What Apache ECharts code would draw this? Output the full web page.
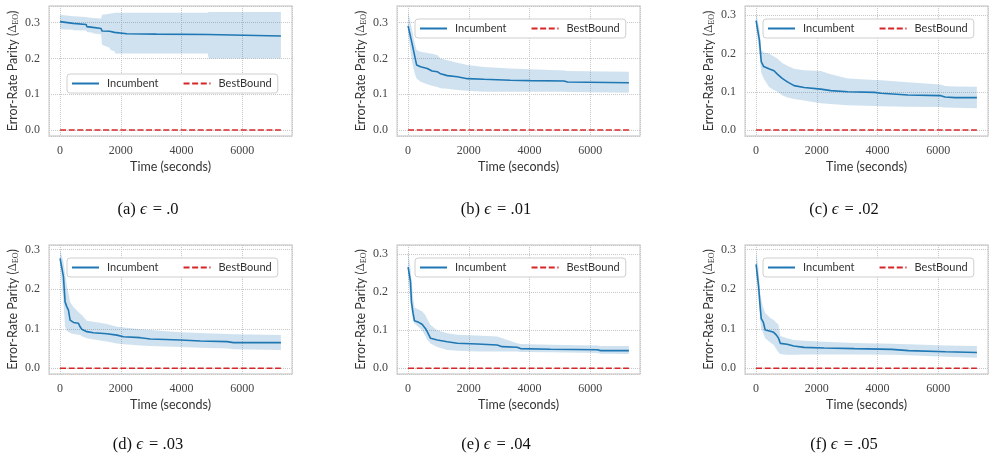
<!DOCTYPE html>
<head>
    <meta charset="utf-8">
    <title>Incumbent vs BestBound</title>
    <script src="https://cdn.jsdelivr.net/npm/echarts@6/dist/echarts.min.js"></script>
</head>
<body style="margin:0;background:#fff">
    <div id="main" style="width:994px;height:461px"></div>
    <script type="text/javascript">
        // panel captions
        var captions = ['(a) {e|ϵ}= .0', '(b) {e|ϵ}= .01', '(c) {e|ϵ}= .02',
                        '(d) {e|ϵ}= .03', '(e) {e|ϵ}= .04', '(f) {e|ϵ}= .05'];

        // (a) eps = .0
        var tA    = [0, 430, 440, 860, 880, 1080, 1100, 1350, 1380, 1630, 1660, 1790, 1820, 2200, 3170, 3190, 4860, 4890, 7270];
        var meanA = [0.303, 0.298, 0.295, 0.295, 0.289, 0.287, 0.285, 0.284, 0.277, 0.276, 0.274, 0.273, 0.270, 0.269, 0.268, 0.267, 0.267, 0.264, 0.263];
        var hiA   = [0.322, 0.318, 0.318, 0.316, 0.315, 0.313, 0.313, 0.312, 0.322, 0.325, 0.326, 0.327, 0.328, 0.328, 0.328, 0.328, 0.328, 0.330, 0.330];
        var loA   = [0.282, 0.280, 0.279, 0.278, 0.274, 0.272, 0.270, 0.268, 0.238, 0.230, 0.224, 0.220, 0.214, 0.214, 0.214, 0.214, 0.214, 0.200, 0.200];

        // (b) eps = .01
        var tB    = [0, 130, 210, 280, 410, 630, 790, 960, 1070, 1290, 1620, 1950, 2500, 3370, 4030, 5130, 5250, 7270];
        var meanB = [0.291, 0.242, 0.210, 0.182, 0.177, 0.172, 0.165, 0.163, 0.157, 0.152, 0.149, 0.1435, 0.1417, 0.139, 0.138, 0.137, 0.134, 0.132];
        var hiB   = [0.331, 0.280, 0.245, 0.224, 0.219, 0.215, 0.213, 0.210, 0.200, 0.195, 0.188, 0.182, 0.176, 0.172, 0.170, 0.166, 0.165, 0.163];
        var loB   = [0.270, 0.190, 0.160, 0.144, 0.135, 0.128, 0.124, 0.120, 0.117, 0.115, 0.112, 0.110, 0.107, 0.107, 0.107, 0.107, 0.106, 0.104];

        // (c) eps = .02
        var tC    = [0, 110, 170, 250, 420, 590, 700, 860, 1030, 1250, 1580, 2130, 2460, 3020, 3900, 4120, 5000, 6060, 6220, 6550, 7270];
        var meanC = [0.286, 0.235, 0.179, 0.166, 0.160, 0.155, 0.146, 0.135, 0.126, 0.116, 0.111, 0.107, 0.103, 0.100, 0.0985, 0.096, 0.0915, 0.090, 0.0863, 0.0846, 0.0846];
        var hiC   = [0.307, 0.265, 0.209, 0.203, 0.200, 0.192, 0.187, 0.175, 0.168, 0.160, 0.156, 0.154, 0.146, 0.135, 0.131, 0.130, 0.125, 0.119, 0.115, 0.114, 0.113];
        var loC   = [0.270, 0.200, 0.150, 0.135, 0.113, 0.104, 0.100, 0.091, 0.085, 0.081, 0.077, 0.070, 0.068, 0.065, 0.063, 0.062, 0.061, 0.060, 0.059, 0.058, 0.057];

        // (d) eps = .03
        var tD    = [0, 110, 165, 220, 275, 330, 440, 600, 660, 715, 880, 1100, 1540, 1870, 2090, 2640, 2970, 3960, 4620, 5500, 5710, 7270];
        var meanD = [0.278, 0.232, 0.168, 0.156, 0.147, 0.122, 0.116, 0.114, 0.105, 0.0986, 0.0927, 0.090, 0.0876, 0.084, 0.080, 0.0775, 0.074, 0.0716, 0.069, 0.0674, 0.065, 0.065];
        var hiD   = [0.299, 0.270, 0.240, 0.210, 0.190, 0.168, 0.155, 0.143, 0.138, 0.135, 0.120, 0.118, 0.112, 0.105, 0.103, 0.099, 0.097, 0.091, 0.089, 0.087, 0.086, 0.084];
        var loD   = [0.261, 0.168, 0.105, 0.095, 0.092, 0.089, 0.087, 0.085, 0.084, 0.081, 0.076, 0.073, 0.068, 0.063, 0.061, 0.058, 0.0564, 0.054, 0.052, 0.050, 0.048, 0.046];

        // (e) eps = .04
        var tE    = [0, 80, 110, 165, 210, 350, 460, 570, 630, 740, 960, 1290, 1620, 2280, 2930, 3100, 3590, 3700, 4690, 6230, 6340, 7270];
        var meanE = [0.266, 0.228, 0.175, 0.145, 0.125, 0.121, 0.116, 0.105, 0.0965, 0.079, 0.0746, 0.070, 0.0658, 0.064, 0.0614, 0.057, 0.0553, 0.0518, 0.050, 0.049, 0.0465, 0.0465];
        var hiE   = [0.311, 0.263, 0.235, 0.185, 0.160, 0.155, 0.150, 0.140, 0.130, 0.114, 0.100, 0.092, 0.088, 0.086, 0.084, 0.079, 0.066, 0.064, 0.062, 0.060, 0.059, 0.0588];
        var loE   = [0.237, 0.175, 0.150, 0.125, 0.118, 0.108, 0.100, 0.085, 0.075, 0.065, 0.056, 0.048, 0.046, 0.044, 0.044, 0.044, 0.044, 0.043, 0.042, 0.040, 0.038, 0.0377];

        // (f) eps = .05
        var tF    = [0, 80, 130, 170, 240, 300, 470, 580, 670, 740, 800, 1020, 1240, 1580, 2240, 3240, 4470, 5020, 6240, 7270];
        var meanF = [0.263, 0.210, 0.160, 0.126, 0.116, 0.097, 0.094, 0.091, 0.084, 0.076, 0.063, 0.0607, 0.0564, 0.053, 0.0514, 0.0497, 0.048, 0.0447, 0.042, 0.040];
        var hiF   = [0.296, 0.253, 0.194, 0.175, 0.152, 0.140, 0.127, 0.122, 0.115, 0.110, 0.082, 0.076, 0.0716, 0.070, 0.067, 0.064, 0.062, 0.061, 0.058, 0.0564];
        var loF   = [0.236, 0.180, 0.125, 0.101, 0.088, 0.076, 0.065, 0.059, 0.048, 0.040, 0.036, 0.034, 0.034, 0.035, 0.035, 0.035, 0.034, 0.033, 0.0295, 0.027];

        var bestBound = 0;

        var panels = [
            {t: tA, mean: meanA, hi: hiA, lo: loA},
            {t: tB, mean: meanB, hi: hiB, lo: loB},
            {t: tC, mean: meanC, hi: hiC, lo: loC},
            {t: tD, mean: meanD, hi: hiD, lo: loD},
            {t: tE, mean: meanE, hi: hiE, lo: loE},
            {t: tF, mean: meanF, hi: hiF, lo: loF}
        ];

        // layout (pixels)
        var colLeft = [49, 397, 745];
        var rowTop = [6, 245];
        var rowH = [130, 129];
        var yMin = [-0.0168, -0.0168, -0.0157, -0.0144, -0.015, -0.0144];
        var yMax = [0.3467, 0.3467, 0.3243, 0.3119, 0.3245, 0.312];
        var legendPos = [[67, 74], [415, 19], [763, 19], [67, 258], [415, 258], [763, 258]];
        var captionY = [210, 445];

        var blue = '#1f77b4', band = 'rgba(31,119,180,0.21)', red = '#d62728';
        var sans = 'Lato', serif = 'Liberation Serif';

        function toPairs(t, v) {
            var out = [];
            for (var i = 0; i < t.length; i++) out.push([t[i], v[i]]);
            return out;
        }

        function bandRenderer(p) {
            return function (params, api) {
                var pts = [];
                for (var i = 0; i < p.t.length; i++) pts.push(api.coord([p.t[i], p.hi[i]]));
                for (var j = p.t.length - 1; j >= 0; j--) pts.push(api.coord([p.t[j], p.lo[j]]));
                return {type: 'polygon', shape: {points: pts}, style: {fill: band}};
            };
        }

        var grid = [], xAxis = [], yAxis = [], series = [], legend = [], graphic = [];
        panels.forEach(function (p, k) {
            var r = Math.floor(k / 3), c = k % 3;
            grid.push({left: colLeft[c], top: rowTop[r], width: 243, height: rowH[r],
                       show: true, borderColor: '#d4d4d4', borderWidth: 1.3, backgroundColor: '#fff'});
            xAxis.push({
                type: 'value', gridIndex: k, min: -365, max: 7635, splitNumber: 4,
                axisLine: {show: false}, axisTick: {show: false},
                axisLabel: {fontFamily: serif, fontSize: 12, color: '#444', margin: 9,
                            formatter: function (v) { return v % 2000 === 0 ? String(v) : ''; }},
                splitLine: {lineStyle: {type: 'dotted', color: '#c8c8c8', width: 1}},
                name: 'Time (seconds)', nameLocation: 'middle', nameGap: 24,
                nameTextStyle: {fontFamily: sans, fontSize: 12.5, color: '#333'}
            });
            yAxis.push({
                type: 'value', gridIndex: k, min: yMin[k], max: yMax[k], splitNumber: 3,
                axisLine: {show: false}, axisTick: {show: false},
                axisLabel: {fontFamily: serif, fontSize: 12, color: '#444', margin: 9,
                            formatter: function (v) {
                                return Math.abs(v * 10 - Math.round(v * 10)) < 1e-6 ? v.toFixed(1) : '';
                            }},
                splitLine: {lineStyle: {type: 'dotted', color: '#c8c8c8', width: 1}},
                name: '{n|Error-Rate Parity (}{d|Δ}{s|EO}{n|)}',
                nameLocation: 'middle', nameGap: 29, nameRotate: 90,
                nameTextStyle: {
                    color: '#333',
                    rich: {
                        n: {fontFamily: sans, fontSize: 12.5, color: '#333', lineHeight: 14},
                        d: {fontFamily: serif, fontSize: 12.5, color: '#333', lineHeight: 14},
                        s: {fontFamily: serif, fontSize: 8, color: '#333', verticalAlign: 'bottom', lineHeight: 11}
                    }
                }
            });
            series.push({
                type: 'custom', name: 'band', xAxisIndex: k, yAxisIndex: k,
                data: [[p.t[0], p.mean[0]]], renderItem: bandRenderer(p), silent: true, z: 1
            });
            series.push({
                type: 'line', name: 'Incumbent', xAxisIndex: k, yAxisIndex: k,
                data: toPairs(p.t, p.mean), symbol: 'none', showSymbol: false, z: 3,
                lineStyle: {color: blue, width: 1.6}, itemStyle: {color: blue}
            });
            series.push({
                type: 'line', name: 'BestBound', xAxisIndex: k, yAxisIndex: k,
                data: [[p.t[0], bestBound], [p.t[p.t.length - 1], bestBound]],
                symbol: 'none', showSymbol: false, z: 3,
                lineStyle: {color: red, width: 1.6, type: [6, 2.6]}, itemStyle: {color: red}
            });
            legend.push({
                data: ['Incumbent', 'BestBound'], left: legendPos[k][0], top: legendPos[k][1],
                selectedMode: false, orient: 'horizontal',
                padding: [4, 6, 4, 4], itemWidth: 27, itemHeight: 10, itemGap: 24,
                itemStyle: {opacity: 0, borderWidth: 0},
                borderColor: '#cfcfcf', borderWidth: 1, borderRadius: 3, backgroundColor: '#fff',
                textStyle: {fontFamily: sans, fontSize: 11, color: '#333', padding: [0, 0, 0, 3]}
            });
            graphic.push({
                type: 'text', x: colLeft[c] + 99, y: captionY[r],
                style: {
                    text: captions[k], align: 'center', verticalAlign: 'middle',
                    font: '16.5px "Liberation Serif"', fill: '#111',
                    rich: {e: {fontFamily: serif, fontSize: 17, fontStyle: 'italic', fill: '#111', padding: [0, 6, 0, 0]}}
                }
            });
        });

        var myChart = echarts.init(document.getElementById('main'));
        myChart.setOption({
            animation: false,
            backgroundColor: '#fff',
            grid: grid,
            xAxis: xAxis,
            yAxis: yAxis,
            legend: legend,
            series: series,
            graphic: graphic
        });
    </script>
</body>
